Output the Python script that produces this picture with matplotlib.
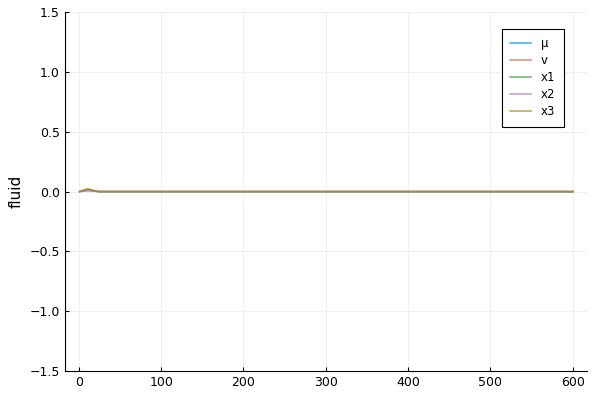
import matplotlib.pyplot as plt

# Sampled points of each series (values are ~0 after the early bump)
t = [1, 5, 10, 15, 20, 25, 30, 600]
mu = [0.0, 0.005, 0.01, 0.008, 0.003, 0.0, 0.0, 0.0]
v = [0.0, 0.01, 0.02, 0.015, 0.005, 0.0, 0.0, 0.0]
x1 = [0.0, 0.006, 0.012, 0.01, 0.004, 0.0, 0.0, 0.0]
x2 = [0.0, 0.004, 0.008, 0.006, 0.002, 0.0, 0.0, 0.0]
x3 = [0.0, 0.01, 0.022, 0.016, 0.005, 0.0, 0.0, 0.0]

names = ['μ', 'v', 'x1', 'x2', 'x3']
series = [mu, v, x1, x2, x3]
colors = ['#009AFA', '#E36F47', '#3EA44E', '#C371D2', '#AC8E18']

fig, ax = plt.subplots(figsize=(6, 4), dpi=100)
for name, ys, c in zip(names, series, colors):
    ax.plot(t, ys, color=c, lw=1.1, alpha=0.8, label=name)

ax.set_xlim(-17, 617)
ax.set_ylim(-1.5, 1.5)
ax.set_xticks([0, 100, 200, 300, 400, 500, 600])
ax.set_yticks([-1.5, -1.0, -0.5, 0.0, 0.5, 1.0, 1.5])
ax.set_ylabel('fluid', fontsize=11)
ax.grid(True, color='#ececec', lw=0.6)
for s in ['top', 'right']:
    ax.spines[s].set_visible(False)
ax.tick_params(labelsize=9, direction='in', length=3)
leg = ax.legend(loc='upper right', bbox_to_anchor=(0.967, 0.97), fontsize=8.5,
                fancybox=False, edgecolor='black', borderpad=0.7,
                handlelength=1.8, labelspacing=0.35, framealpha=1)
leg.get_frame().set_linewidth(0.8)
fig.subplots_adjust(left=0.108, right=0.978, top=0.97, bottom=0.072)
fig.savefig('out.png')
